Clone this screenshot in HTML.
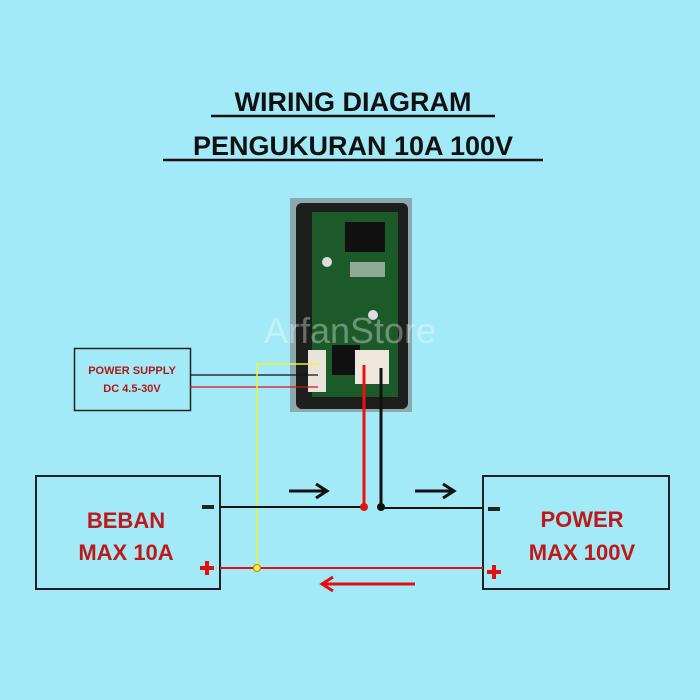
<!DOCTYPE html>
<html><head><style>html,body{margin:0;padding:0;background:#a2eaf7;}svg{display:block}</style></head>
<body>
<svg width="700" height="700" xmlns="http://www.w3.org/2000/svg" font-family="Liberation Sans, sans-serif">
<rect width="700" height="700" fill="#a2eaf7"/>
<g font-weight="bold" font-size="27" fill="#111" text-anchor="middle">
<text x="353" y="111">WIRING DIAGRAM</text>
<text x="353" y="155">PENGUKURAN 10A 100V</text>
</g>
<line x1="211" y1="116" x2="495" y2="116" stroke="#111" stroke-width="2.5"/>
<line x1="163" y1="160" x2="543" y2="160" stroke="#111" stroke-width="2.5"/>
<!-- PCB -->
<rect x="290" y="198" width="122" height="214" fill="#8aaab0"/>
<rect x="296" y="203" width="112" height="206" rx="6" fill="#1c1f1c"/>
<rect x="312" y="212" width="86" height="185" fill="#1d5a2a"/>
<rect x="345" y="222" width="40" height="30" fill="#111"/>
<rect x="350" y="262" width="35" height="15" fill="#ddd" opacity=".6"/>
<rect x="332" y="345" width="28" height="30" fill="#111"/>
<rect x="355" y="350" width="34" height="34" fill="#eee8dc"/>
<rect x="308" y="350" width="18" height="42" fill="#e8e4dc"/>
<circle cx="327" cy="262" r="5" fill="#ddd"/>
<circle cx="373" cy="315" r="5" fill="#ddd"/>
<text x="350" y="343" font-size="36" fill="#fff" opacity=".35" text-anchor="middle">ArfanStore</text>
<!-- power supply -->
<rect x="74.5" y="348.5" width="116" height="62" fill="none" stroke="#222" stroke-width="1.5"/>
<g font-weight="bold" font-size="11" fill="#b01818" text-anchor="middle">
<text x="132" y="374">POWER SUPPLY</text><text x="132" y="392">DC 4.5-30V</text></g>
<line x1="190" y1="375" x2="318" y2="375" stroke="#111" stroke-width="1.3"/>
<line x1="190" y1="387" x2="318" y2="387" stroke="#e01010" stroke-width="1.3"/>
<polyline points="320,364 257,364 257,568" fill="none" stroke="#f2f230" stroke-width="1.5"/>
<!-- boxes -->
<rect x="36" y="476" width="184" height="113" fill="none" stroke="#222" stroke-width="2"/>
<rect x="483" y="476" width="186" height="113" fill="none" stroke="#222" stroke-width="2"/>
<g font-weight="bold" font-size="22" fill="#c01818" text-anchor="middle">
<text x="126" y="528">BEBAN</text><text x="126" y="560">MAX 10A</text>
<text x="582" y="527">POWER</text><text x="582" y="560">MAX 100V</text></g>
<rect x="202" y="505" width="12" height="4" fill="#222"/>
<rect x="488" y="507" width="12" height="4" fill="#222"/>
<rect x="200" y="566" width="14" height="4" fill="#e01010"/><rect x="205" y="561" width="4" height="14" fill="#e01010"/>
<rect x="487" y="570" width="14" height="4" fill="#e01010"/><rect x="492" y="565" width="4" height="14" fill="#e01010"/>
<!-- wires -->
<line x1="220" y1="507" x2="363" y2="507" stroke="#111" stroke-width="2"/>
<line x1="381" y1="508" x2="483" y2="508" stroke="#111" stroke-width="2"/>
<line x1="220" y1="568" x2="483" y2="568" stroke="#e01010" stroke-width="2"/>
<line x1="364" y1="365" x2="364" y2="507" stroke="#f01010" stroke-width="3"/>
<line x1="381" y1="368" x2="381" y2="508" stroke="#111" stroke-width="3"/>
<circle cx="364" cy="507" r="4" fill="#e01010"/>
<circle cx="381" cy="507" r="4" fill="#111"/>
<circle cx="257" cy="568" r="3.5" fill="#f2f230" stroke="#c08010"/>
<!-- arrows -->
<g stroke="#111" stroke-width="3" fill="none">
<line x1="289" y1="491" x2="326" y2="491"/><polyline points="316,484 327,491 316,498"/>
<line x1="415" y1="491" x2="453" y2="491"/><polyline points="443,484 454,491 443,498"/></g>
<g stroke="#e01010" stroke-width="3" fill="none">
<line x1="322" y1="584" x2="415" y2="584"/><polyline points="333,577 322,584 333,591"/></g>
</svg>
</body></html>
